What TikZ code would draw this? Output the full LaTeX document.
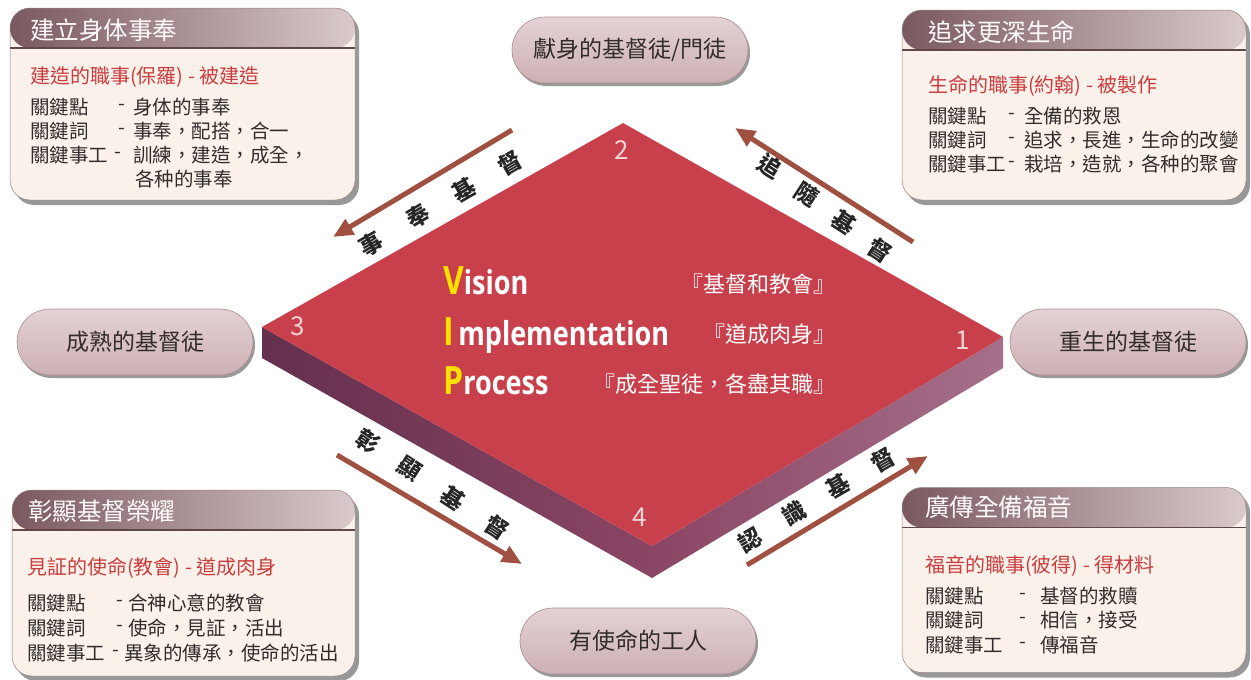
\documentclass[tikz,border=0pt]{standalone}
\usepackage{fontspec}
\usepackage{graphicx}
\newfontfamily\cjk{Noto Sans CJK TC}
\newfontfamily\vipf{Open Sans}
\usetikzlibrary{arrows.meta,shadows,calc}
\definecolor{topc}{RGB}{200,64,75}
\definecolor{sideL}{RGB}{100,48,78}
\definecolor{sideM}{RGB}{138,70,100}
\definecolor{sideR}{RGB}{165,112,138}
\definecolor{arrc}{RGB}{160,80,64}
\definecolor{pillTop}{RGB}{228,210,212}
\definecolor{pillBot}{RGB}{204,176,180}
\definecolor{pillEdge}{RGB}{170,140,145}
\definecolor{cardFill}{RGB}{250,241,234}
\definecolor{cardEdge}{RGB}{150,130,130}
\definecolor{hdrL}{RGB}{122,88,96}
\definecolor{hdrR}{RGB}{218,202,202}
\definecolor{hdrLine}{RGB}{95,70,75}
\definecolor{redt}{RGB}{200,62,62}
\definecolor{txtd}{RGB}{50,45,45}
\definecolor{numc}{RGB}{242,212,212}
\definecolor{vipY}{RGB}{250,224,0}
\begin{document}
\begin{tikzpicture}[x=1pt,y=-1pt,
  pill/.style={draw=pillEdge, line width=0.6pt, top color=pillTop, bottom color=pillBot,
    rounded corners=33pt, minimum width=236pt, minimum height=66pt, inner sep=0pt,
    font=\cjk\fontsize{23}{23}\selectfont, text=txtd,
    drop shadow={shadow xshift=2pt, shadow yshift=-3pt, opacity=0.4, fill=black}},
  card/.style={draw=cardEdge, line width=0.5pt, fill=cardFill, rounded corners=20pt, inner sep=0pt,
    drop shadow={shadow xshift=4pt, shadow yshift=-5pt, opacity=0.5, fill=black!80},
    path picture={
      \shade[left color=hdrL, right color=hdrR] (path picture bounding box.north west) rectangle ([yshift=-40pt]path picture bounding box.north east);
      \draw[hdrLine, line width=1.2pt] ([yshift=-40pt]path picture bounding box.north west) -- ([yshift=-40pt]path picture bounding box.north east);
    }},
  hdr/.style={anchor=west, inner sep=0pt, font=\cjk\fontsize{24.5}{25}\selectfont, text=white!96!pink},
  redl/.style={anchor=west, inner sep=0pt, font=\cjk\fontsize{20}{20}\selectfont, text=redt},
  ln/.style={anchor=west, inner sep=0pt, font=\cjk\fontsize{19.5}{20}\selectfont, text=txtd},
  hy/.style={inner sep=0pt, font=\cjk\fontsize{19.5}{20}\selectfont, text=txtd},
  atxt/.style={inner sep=0pt, font=\cjk\bfseries\fontsize{23}{23}\selectfont, text=black!85},
  num/.style={inner sep=0pt, font=\cjk\fontsize{26}{26}\selectfont, text=numc},
  vip/.style={anchor=base west, inner sep=0pt, font=\vipf\bfseries\fontsize{33}{33}\selectfont, text=white},
  vipc/.style={anchor=east, inner sep=0pt, font=\cjk\fontsize{22}{22}\selectfont, text=white},
  arr/.style={draw=arrc, line width=5pt, -{Triangle[length=20pt,width=17pt]}}
]
\useasboundingbox (0,0) rectangle (1251,680);
\fill[white] (0,0) rectangle (1251,680);

% ---------- diamond ----------
\coordinate (dT) at (623,123);
\coordinate (dR) at (1003,337);
\coordinate (dB) at (652,546);
\coordinate (dL) at (262,327);
\coordinate (dLb) at (262,358);
\coordinate (dBb) at (652,578);
\coordinate (dRb) at (1003,368);
\shade[left color=sideL, right color=sideM] (dL) -- (dB) -- (dBb) -- (dLb) -- cycle;
\shade[left color=sideM, right color=sideR] (dB) -- (dR) -- (dRb) -- (dBb) -- cycle;
\fill[topc] (dT) -- (dR) -- (dB) -- (dL) -- cycle;

\node[num] (n2) at (622,150) {2};
\node[num] (n3) at (298,326) {3};
\node[num] (n1) at (963,340) {1};
\node[num] (n4) at (640,517) {4};

% ---------- VIP ----------
\node[vip] (vV) at (443,294) {\scalebox{0.82}[1]{{\fontsize{39}{39}\selectfont\color{vipY}V}ision}};
\node[vip] (vI) at (443,345) {\scalebox{0.82}[1]{{\fontsize{39}{39}\selectfont\color{vipY}I}\,mplementation}};
\node[vip] (vP) at (443,394) {\scalebox{0.82}[1]{{\fontsize{39}{39}\selectfont\color{vipY}P}rocess}};
\node[vipc] (cV) at (836,284) {『基督和教會』};
\node[vipc] (cI) at (836,334) {『道成肉身』};
\node[vipc] (cP) at (836,384) {『成全聖徒，各盡其職』};

% ---------- arrows ----------
\coordinate (a1s) at (512,130); \coordinate (a1e) at (333,237);
\coordinate (a2s) at (913,242); \coordinate (a2e) at (735,128);
\coordinate (a3s) at (337,455); \coordinate (a3e) at (522,564);
\coordinate (a4s) at (747,565); \coordinate (a4e) at (928,456);
\draw[arr] (a1s) -- (a1e);
\draw[arr] (a2s) -- (a2e);
\draw[arr] (a3s) -- (a3e);
\draw[arr] (a4s) -- (a4e);

\node[atxt, rotate=30] (t1a) at (371,244) {事};
\node[atxt, rotate=30] (t1b) at (418,216) {奉};
\node[atxt, rotate=30] (t1c) at (464,190) {基};
\node[atxt, rotate=30] (t1d) at (510,163) {督};

\node[atxt, rotate=-33] (t2a) at (770,166) {追};
\node[atxt, rotate=-33] (t2b) at (807,194) {隨};
\node[atxt, rotate=-33] (t2c) at (844,222) {基};
\node[atxt, rotate=-33] (t2d) at (880,250) {督};

\node[atxt, rotate=-33] (t3a) at (368,441) {彰};
\node[atxt, rotate=-33] (t3b) at (410,469) {顯};
\node[atxt, rotate=-33] (t3c) at (453,498) {基};
\node[atxt, rotate=-33] (t3d) at (497,527) {督};

\node[atxt, rotate=30] (t4a) at (750,540) {認};
\node[atxt, rotate=30] (t4b) at (794,513) {識};
\node[atxt, rotate=30] (t4c) at (838,486) {基};
\node[atxt, rotate=30] (t4d) at (883,460) {督};

% ---------- pills ----------
\node[pill] (p2) at (630,50) {獻身的基督徒/門徒};
\node[pill] (p4) at (638,641) {有使命的工人};
\node[pill] (p3) at (135,342) {成熟的基督徒};
\node[pill] (p1) at (1128,342) {重生的基督徒};

% ---------- cards ----------
\node[card, minimum width=345pt, minimum height=192pt] (bTL) at (182.5,104) {};
\node[hdr] (hTL) at (30,30) {建立身体事奉};
\node[redl] (rTL) at (30,77) {建造的職事(保羅) - 被建造};
\node[ln] (kTL1) at (30,107) {關鍵點};
\node[hy] (yTL1) at (122,107) {-};
\node[ln] (vTL1) at (133,107) {身体的事奉};
\node[ln] (kTL2) at (30,131) {關鍵詞};
\node[hy] (yTL2) at (122,131) {-};
\node[ln] (vTL2) at (133,131) {事奉，配搭，合一};
\node[ln] (kTL3) at (30,155) {關鍵事工};
\node[hy] (yTL3) at (118,155) {-};
\node[ln] (vTL3) at (133,155) {訓練，建造，成全，};
\node[ln] (vTL4) at (135,179) {各种的事奉};

\node[card, minimum width=344pt, minimum height=190pt] (bTR) at (1074,105) {};
\node[hdr] (hTR) at (928,32) {追求更深生命};
\node[redl] (rTR) at (928,86) {生命的職事(約翰) - 被製作};
\node[ln] (kTR1) at (928,116) {關鍵點};
\node[hy] (yTR1) at (1012,116) {-};
\node[ln] (vTR1) at (1024,116) {全備的救恩};
\node[ln] (kTR2) at (928,140) {關鍵詞};
\node[hy] (yTR2) at (1012,140) {-};
\node[ln] (vTR2) at (1024,140) {追求，長進，生命的改變};
\node[ln] (kTR3) at (928,164) {關鍵事工};
\node[hy] (yTR3) at (1012,164) {-};
\node[ln] (vTR3) at (1024,164) {栽培，造就，各种的聚會};

\node[card, minimum width=343pt, minimum height=186pt] (bBL) at (183.5,583) {};
\node[hdr] (hBL) at (28,511) {彰顯基督榮耀};
\node[redl] (rBL) at (27,568) {見証的使命(教會) - 道成肉身};
\node[ln] (kBL1) at (27,603) {關鍵點};
\node[hy] (yBL1) at (120,603) {-};
\node[ln] (vBL1) at (128,603) {合神心意的教會};
\node[ln] (kBL2) at (27,628) {關鍵詞};
\node[hy] (yBL2) at (120,628) {-};
\node[ln] (vBL2) at (128,628) {使命，見証，活出};
\node[ln] (kBL3) at (27,653) {關鍵事工};
\node[hy] (yBL3) at (116,653) {-};
\node[ln] (vBL3) at (124,653) {異象的傳承，使命的活出};

\node[card, minimum width=344pt, minimum height=185pt] (bBR) at (1074,580) {};
\node[hdr] (hBR) at (925,507) {廣傳全備福音};
\node[redl] (rBR) at (925,566) {福音的職事(彼得) - 得材料};
\node[ln] (kBR1) at (925,596) {關鍵點};
\node[hy] (yBR1) at (1023,596) {-};
\node[ln] (vBR1) at (1040,596) {基督的救贖};
\node[ln] (kBR2) at (925,620) {關鍵詞};
\node[hy] (yBR2) at (1023,620) {-};
\node[ln] (vBR2) at (1040,620) {相信，接受};
\node[ln] (kBR3) at (925,645) {關鍵事工};
\node[hy] (yBR3) at (1023,645) {-};
\node[ln] (vBR3) at (1040,645) {傳福音};
\end{tikzpicture}
\end{document}
